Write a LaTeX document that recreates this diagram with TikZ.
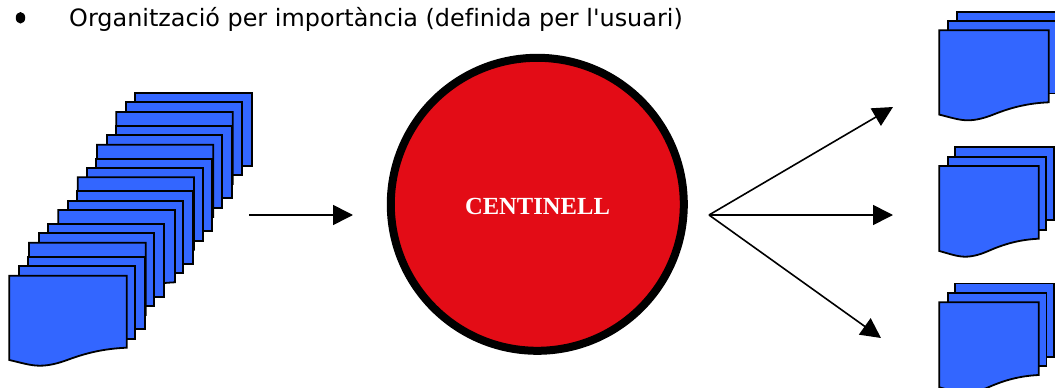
\documentclass[tikz,border=0pt]{standalone}
\usepackage{fontspec}
\setmainfont{DejaVu Sans}
\newfontfamily\headfont[Ligatures=NoCommon]{DejaVu Sans}
\newfontfamily\serifbold{Liberation Serif}
\usetikzlibrary{arrows.meta,shapes.geometric}
\definecolor{pageblue}{RGB}{51,102,255}
\definecolor{discred}{RGB}{227,12,22}
\tikzset{
  x=1pt,y=-1pt,
  page/.style={draw=black,fill=pageblue,line width=1.8pt,line join=miter},
  conn/.style={draw=black,line width=1.6pt,-{Triangle[length=20pt,width=20pt]}},
  lab/.style={inner sep=0pt,anchor=base west,text=black},
}
% rectangular sheet: left, top, right, bottom
\newcommand{\sheet}[4]{\path[page] (#1,#2) rectangle (#3,#4);}
% sheet with wavy lower edge: left, top, right, bottom at right
\newcommand{\wavesheet}[4]{%
  \path[page] (#1,#2) -- (#3,#2) -- (#3,#4)
    .. controls ({#3-0.2*(#3-#1)},{#4+1}) and ({#3-0.35*(#3-#1)},{#4+5.5}) .. ({#3-0.5*(#3-#1)},{#4+12})
    .. controls ({#3-0.58*(#3-#1)},{#4+15.5}) and ({#3-0.66*(#3-#1)},{#4+18}) .. ({#3-0.74*(#3-#1)},{#4+18})
    .. controls ({#3-0.82*(#3-#1)},{#4+18}) and ({#3-0.9*(#3-#1)},{#4+15}) .. (#1,{#4+12.3}) -- cycle;}
\begin{document}
\begin{tikzpicture}
\useasboundingbox (0,0) rectangle (1055,388);
% left stack
\sheet{135}{93.3}{251.7}{165.7}
\sheet{126}{102.3}{241.7}{175}
\wavesheet{116.3}{112}{232.7}{184}
\sheet{115.7}{126}{231.7}{198.3}
\sheet{106.7}{135.3}{222.3}{207.7}
\wavesheet{97}{144.7}{213.3}{217}
\sheet{96.3}{158.7}{212.3}{231}
\sheet{87.3}{168}{202.7}{240.7}
\wavesheet{77.7}{177.3}{194}{249.7}
\sheet{77}{191.3}{193}{264}
\sheet{68}{200.7}{183.3}{273.3}
\wavesheet{58.3}{210}{175}{282.3}
\sheet{47.7}{224}{164.3}{296.7}
\sheet{38.7}{233.3}{154.3}{306}
\wavesheet{29}{242.7}{145.7}{315}
\sheet{28.3}{256.7}{144.7}{329.3}
\sheet{19.3}{266}{135}{338.7}
\wavesheet{9.3}{275.7}{126.7}{347.7}
% disc
\node[circle,draw=black,fill=discred,line width=8pt,minimum size=293pt,inner sep=0pt,outer sep=0pt] (disc) at (537.3,204.3) {};
\node[inner sep=0pt,text=white,font=\serifbold\bfseries\fontsize{24.6}{28}\selectfont] (title) at (537.5,206) {CENTINELL};
% arrows
\coordinate (inA) at (249,215);
\coordinate (inB) at (353,215);
\draw[conn] (inA) -- (inB);
\coordinate (hub) at (709,215);
\coordinate (outA) at (893,107);
\coordinate (outB) at (893,215);
\coordinate (outC) at (881,338);
\draw[conn] (hub) -- (outA);
\draw[conn] (hub) -- (outB);
\draw[conn] (hub) -- (outC);
% right stacks
\begin{scope}
\clip (0,0) rectangle (1055,388);
\sheet{956.7}{11.7}{1075}{84}
\sheet{948.3}{20.7}{1065}{93.5}
\wavesheet{939.3}{30.3}{1048.7}{102.3}
\sheet{955.3}{147.3}{1054.3}{220}
\sheet{947.7}{156.7}{1046.3}{230}
\wavesheet{939.3}{166}{1038.7}{238.7}
\sheet{955.3}{283.5}{1054.3}{356.7}
\sheet{947.7}{292.7}{1046.5}{366}
\wavesheet{939.3}{302.3}{1038.7}{375}
\end{scope}
% heading
\node[ellipse,fill=black,inner sep=0pt,minimum width=9.5pt,minimum height=11.5pt] (dot) at (20.5,17.8) {};
\node[lab,font=\headfont\fontsize{23.9}{28}\selectfont] (head) at (69,27) {Organització per importància (definida per l'usuari)};
\end{tikzpicture}
\end{document}
